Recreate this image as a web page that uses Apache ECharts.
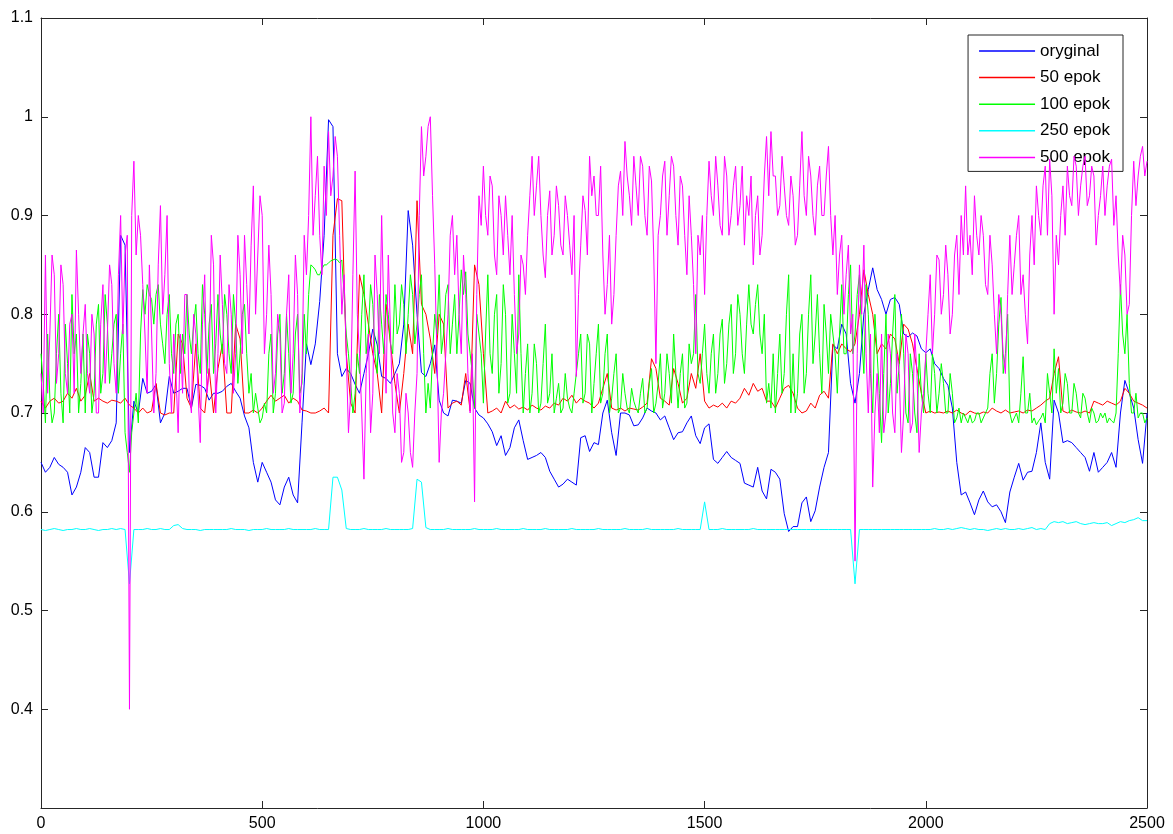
<!DOCTYPE html>
<html>
<head>
<meta charset="utf-8">
<script src="https://cdn.jsdelivr.net/npm/echarts@6/dist/echarts.min.js"></script>
<style>
html,body{margin:0;padding:0;background:#fff;}
#chart{width:1173px;height:834px;}
</style>
</head>
<body>
<div id="chart"></div>
<script>
// values are sampled every 10 units (x = 0,10,...,2500);
// the "Mid" arrays hold the readings in between (x = 5,15,...,2495)
const xStep = 10;
const seriesNames = ['oryginal', '50 epok', '100 epok', '250 epok', '500 epok'];
const xTicks = [0, 500, 1000, 1500, 2000, 2500];
const yTicks = [0.4, 0.5, 0.6, 0.7, 0.8, 0.9, 1, 1.1];

const oryginal = [
.650,.640,.645,.655,.648,.645,.640,.617,.625,.640,
.665,.660,.635,.635,.670,.665,.672,.690,.880,.870,
.660,.712,.700,.735,.720,.722,.729,.690,.700,.737,
.720,.722,.725,.725,.705,.729,.728,.725,.713,.720,
.720,.722,.727,.730,.722,.715,.697,.685,.650,.630,
.650,.640,.630,.612,.607,.625,.635,.617,.609,.690,
.770,.749,.770,.813,.880,.997,.990,.760,.737,.745,
.740,.729,.720,.740,.760,.785,.769,.737,.735,.730,
.740,.750,.790,.905,.870,.800,.741,.737,.750,.769,
.713,.700,.697,.713,.712,.710,.733,.730,.705,.698,
.695,.689,.681,.667,.677,.657,.665,.685,.693,.672,
.653,.655,.657,.660,.655,.641,.633,.625,.628,.633,
.630,.627,.675,.677,.661,.670,.668,.700,.713,.680,
.657,.700,.700,.698,.687,.688,.695,.705,.702,.700,
.693,.697,.685,.673,.680,.681,.690,.697,.677,.669,
.685,.689,.653,.649,.655,.661,.655,.652,.649,.629,
.627,.625,.645,.621,.613,.643,.640,.633,.598,.580,
.585,.585,.609,.615,.590,.601,.625,.645,.660,.769,
.765,.790,.780,.730,.710,.740,.800,.825,.847,.825,
.815,.800,.815,.817,.810,.780,.777,.781,.778,.765,
.761,.765,.750,.745,.735,.728,.705,.650,.617,.620,
.609,.597,.612,.621,.610,.605,.607,.600,.589,.620,
.635,.649,.632,.640,.641,.660,.690,.650,.633,.713,
.700,.670,.672,.670,.665,.660,.655,.641,.660,.640,
.645,.650,.660,.645,.700,.733,.720,.705,.673,.649,
.700
];

const epok50 = [
.712,.705,.712,.715,.710,.712,.720,.715,.725,.712,
.718,.740,.712,.715,.712,.710,.713,.712,.710,.715,
.708,.705,.700,.705,.700,.702,.730,.700,.698,.700,
.700,.780,.770,.715,.705,.770,.705,.700,.745,.700,
.745,.770,.700,.700,.790,.775,.700,.700,.703,.700,
.705,.712,.718,.712,.715,.718,.710,.715,.712,.703,
.702,.700,.700,.702,.705,.700,.880,.917,.915,.760,
.710,.700,.840,.820,.790,.760,.740,.700,.810,.770,
.730,.700,.740,.790,.760,.915,.810,.800,.775,.740,
.800,.790,.705,.710,.712,.708,.740,.702,.850,.830,
.760,.700,.702,.705,.700,.712,.705,.708,.704,.706,
.703,.708,.705,.703,.707,.705,.710,.708,.715,.712,
.718,.710,.715,.712,.710,.705,.710,.725,.740,.705,
.703,.705,.702,.705,.704,.703,.706,.710,.755,.745,
.715,.712,.708,.745,.730,.710,.715,.740,.725,.760,
.712,.705,.708,.706,.710,.705,.712,.710,.715,.725,
.718,.730,.722,.725,.712,.712,.705,.715,.725,.728,
.720,.705,.700,.702,.710,.705,.718,.722,.715,.770,
.760,.770,.765,.762,.770,.800,.845,.820,.800,.760,
.770,.765,.780,.775,.750,.790,.785,.770,.745,.720,
.700,.702,.700,.701,.700,.702,.700,.703,.700,.698,
.702,.700,.699,.701,.700,.705,.702,.700,.703,.700,
.701,.702,.700,.703,.702,.705,.708,.712,.715,.740,
.757,.702,.700,.703,.701,.700,.702,.700,.712,.710,
.708,.712,.710,.708,.712,.725,.720,.712,.710,.708,
.705
];

const epok100 = [
.760,.690,.715,.700,.800,.690,.750,.820,.780,.730,
.700,.760,.720,.810,.740,.790,.760,.800,.760,.680,
.640,.700,.690,.825,.830,.815,.820,.790,.750,.820,
.740,.800,.780,.820,.760,.810,.740,.800,.790,.740,
.820,.760,.800,.740,.790,.760,.810,.720,.700,.705,
.695,.700,.780,.720,.800,.740,.760,.720,.800,.730,
.760,.850,.845,.840,.850,.852,.855,.855,.855,.780,
.730,.720,.740,.840,.780,.810,.740,.790,.820,.770,
.830,.790,.810,.800,.820,.790,.840,.700,.705,.800,
.840,.780,.830,.790,.760,.845,.843,.760,.705,.780,
.710,.840,.740,.820,.750,.800,.720,.760,.840,.700,
.770,.720,.750,.710,.790,.720,.700,.730,.705,.715,
.700,.740,.780,.720,.770,.730,.790,.720,.780,.715,
.760,.705,.720,.700,.712,.700,.735,.705,.745,.710,
.760,.720,.740,.780,.705,.760,.710,.750,.820,.730,
.790,.720,.780,.740,.795,.750,.810,.760,.800,.740,
.830,.780,.830,.760,.710,.705,.700,.780,.740,.840,
.760,.720,.800,.740,.840,.780,.760,.810,.740,.780,
.720,.830,.760,.850,.780,.840,.740,.800,.700,.760,
.670,.800,.730,.820,.750,.760,.690,.740,.680,.720,
.760,.700,.740,.720,.730,.700,.720,.695,.690,.695,
.698,.692,.700,.695,.705,.760,.740,.817,.760,.700,
.695,.690,.757,.700,.690,.688,.695,.690,.720,.765,
.745,.710,.730,.700,.720,.695,.715,.690,.700,.692,
.695,.690,.692,.700,.830,.760,.730,.700,.695,.700,
.695
];

const epok100Mid = [
.730,.780,.690,.760,.720,.790,.700,.760,.700,.780,
.780,.700,.790,.720,.820,.730,.790,.720,.790,.660,
.680,.720,.780,.800,.820,.790,.830,.770,.800,.760,
.790,.740,.760,.780,.790,.760,.830,.740,.810,.770,
.780,.820,.760,.820,.730,.800,.760,.740,.720,.690,
.710,.760,.700,.780,.720,.800,.710,.780,.720,.800,
.820,.848,.840,.846,.850,.854,.856,.852,.820,.760,
.700,.760,.800,.760,.830,.760,.820,.760,.800,.760,
.780,.830,.760,.840,.770,.820,.760,.730,.760,.780,
.760,.820,.760,.820,.800,.820,.780,.740,.800,.760,
.780,.760,.800,.720,.830,.710,.800,.720,.760,.740,
.700,.770,.700,.750,.710,.760,.715,.700,.740,.705,
.720,.760,.710,.780,.700,.760,.710,.760,.700,.740,
.700,.740,.705,.725,.705,.720,.700,.730,.700,.730,
.705,.760,.710,.740,.740,.705,.770,.760,.740,.760,
.740,.760,.720,.780,.730,.790,.740,.820,.760,.790,
.790,.810,.780,.800,.730,.760,.740,.720,.800,.700,
.700,.780,.720,.800,.750,.820,.720,.780,.800,.760,
.780,.760,.820,.760,.820,.780,.830,.740,.800,.720,
.740,.700,.780,.720,.800,.700,.760,.700,.760,.700,
.720,.760,.700,.750,.700,.740,.690,.705,.700,.690,
.690,.700,.690,.700,.740,.710,.790,.740,.800,.690,
.700,.720,.700,.720,.695,.692,.700,.740,.700,.720,
.700,.740,.700,.730,.700,.720,.700,.705,.690,.700,
.700,.695,.690,.760,.780,.800,.700,.720,.700,.690
];

const epok250 = [
.582,.581,.582,.583,.582,.581,.582,.582,.583,.582,
.582,.583,.582,.581,.582,.582,.583,.582,.583,.582,
.527,.582,.582,.582,.583,.582,.582,.583,.582,.582,
.586,.587,.583,.582,.582,.582,.581,.582,.582,.582,
.582,.582,.582,.583,.582,.582,.582,.581,.582,.582,
.582,.583,.582,.582,.582,.582,.583,.582,.582,.582,
.582,.582,.583,.582,.582,.582,.635,.635,.622,.583,
.582,.582,.582,.583,.582,.582,.582,.582,.583,.582,
.582,.582,.582,.582,.583,.633,.630,.584,.582,.582,
.582,.582,.583,.582,.582,.582,.582,.582,.583,.582,
.582,.582,.582,.583,.582,.582,.582,.582,.582,.583,
.582,.582,.582,.582,.583,.582,.582,.582,.582,.582,
.583,.582,.582,.582,.582,.582,.583,.582,.582,.582,
.582,.582,.583,.582,.582,.582,.582,.583,.582,.582,
.582,.582,.582,.582,.583,.582,.582,.582,.582,.582,
.610,.582,.582,.582,.583,.582,.582,.582,.582,.582,
.582,.583,.582,.582,.582,.582,.582,.582,.582,.582,
.582,.582,.582,.582,.582,.582,.582,.582,.582,.582,
.582,.582,.582,.582,.527,.582,.582,.582,.582,.582,
.582,.582,.582,.582,.582,.582,.582,.582,.582,.582,
.582,.582,.583,.582,.582,.583,.582,.583,.584,.583,
.582,.583,.582,.582,.581,.582,.583,.582,.583,.582,
.582,.583,.582,.583,.584,.582,.583,.582,.588,.590,
.589,.590,.588,.589,.590,.588,.587,.588,.589,.588,
.588,.589,.586,.588,.590,.589,.591,.592,.594,.591,
.591
];

const epok500 = [
.740,.860,.780,.840,.760,.830,.720,.800,.865,.740,
.810,.720,.780,.700,.830,.780,.830,.720,.900,.860,
.400,.955,.900,.830,.720,.780,.740,.910,.840,.750,
.780,.680,.720,.820,.700,.780,.670,.840,.740,.850,
.760,.810,.740,.800,.760,.840,.880,.780,.930,.860,
.900,.800,.820,.740,.780,.710,.840,.760,.820,.740,
.840,1.000,.920,.880,.950,.985,.940,.960,.800,.760,
.720,.945,.760,.633,.780,.720,.820,.900,.720,.780,
.680,.720,.660,.700,.645,.740,.990,.960,1.000,.850,
.650,.720,.800,.900,.880,.760,.820,.700,.610,.920,
.950,.880,.930,.840,.900,.920,.840,.820,.780,.850,
.880,.960,.930,.900,.837,.925,.880,.910,.860,.900,
.840,.737,.870,.905,.960,.940,.900,.860,.830,.790,
.880,.945,.975,.920,.960,.900,.950,.880,.935,.750,
.900,.955,.920,.950,.870,.930,.840,.880,.760,.860,
.820,.955,.900,.930,.880,.940,.900,.950,.910,.870,
.900,.850,.920,.880,.980,.985,.940,.910,.930,.890,
.920,.880,.985,.900,.940,.880,.950,.900,.970,.860,
.820,.880,.840,.780,.550,.850,.870,.700,.625,.740,
.780,.700,.760,.680,.740,.700,.760,.690,.740,.700,
.760,.840,.800,.855,.820,.840,.800,.880,.900,.930,
.880,.920,.860,.880,.820,.850,.760,.800,.740,.880,
.850,.900,.840,.770,.900,.930,.880,.950,.957,.800,
.850,.930,.950,.910,.950,.930,.960,.920,.940,.900,
.950,.930,.957,.920,.820,.860,.810,.955,.940,.970,
.955
];

const epok500Mid = [
.700,.720,.860,.730,.850,.740,.790,.720,.800,.780,
.740,.800,.700,.790,.730,.850,.750,.840,.780,.880,
.900,.860,.880,.780,.850,.700,.850,.800,.900,.700,
.740,.780,.820,.720,.800,.720,.790,.720,.880,.700,
.860,.750,.830,.720,.880,.760,.830,.870,.800,.920,
.760,.870,.720,.800,.700,.800,.720,.860,.700,.880,
.900,.880,.960,.840,.900,.920,.980,.880,.840,.680,
.840,.800,.700,.740,.680,.860,.760,.800,.860,.700,
.740,.650,.720,.660,.700,.900,.940,.990,.920,.760,
.700,.760,.880,.840,.800,.860,.740,.760,.820,.890,
.900,.940,.860,.920,.860,.880,.900,.760,.860,.820,
.920,.900,.960,.860,.900,.860,.930,.870,.920,.870,
.900,.820,.920,.860,.920,.900,.950,.800,.880,.820,
.930,.900,.940,.890,.930,.960,.900,.950,.860,.880,
.940,.880,.960,.900,.940,.880,.920,.830,.880,.900,
.900,.920,.960,.890,.960,.880,.930,.890,.950,.920,
.940,.900,.860,.940,.920,.940,.900,.960,.900,.940,
.870,.930,.920,.960,.900,.930,.900,.940,.900,.900,
.860,.800,.870,.800,.760,.800,.760,.780,.700,.680,
.680,.780,.700,.760,.660,.780,.680,.780,.660,.720,
.800,.760,.860,.800,.870,.780,.860,.820,.860,.860,
.840,.880,.900,.830,.880,.800,.820,.760,.820,.820,
.880,.820,.800,.860,.850,.900,.930,.880,.920,.880,
.900,.880,.920,.960,.900,.950,.910,.950,.870,.920,
.900,.950,.890,.860,.880,.800,.900,.910,.960,.940
];

const seriesValues = [oryginal, epok50, epok100, epok250, epok500];
const seriesMids = [null, null, epok100Mid, null, epok500Mid];
const colors = ['#0000FF', '#FF0000', '#00FF00', '#00FFFF', '#FF00FF'];

function pairs(vals, mids) {
  const out = [];
  vals.forEach((v, i) => {
    out.push([i * xStep, v]);
    if (mids && i < mids.length) out.push([i * xStep + xStep / 2, mids[i]]);
  });
  return out;
}

const chart = echarts.init(document.getElementById('chart'), null, {renderer: 'canvas'});
const font = 'Liberation Sans, Arial, Helvetica, sans-serif';
const axisColor = '#262626';

const option = {
  animation: false,
  backgroundColor: '#ffffff',
  grid: {left: 41, right: 26, top: 18, bottom: 26, containLabel: false},
  legend: {
    data: seriesNames.map(n => ({name: n, icon: 'rect'})),
    orient: 'vertical',
    right: 50,
    top: 35,
    padding: [6, 13, 4, 11],
    itemWidth: 56,
    itemHeight: 1.5,
    itemGap: 6.6,
    backgroundColor: '#ffffff',
    borderColor: axisColor,
    borderWidth: 1,
    borderRadius: 0,
    textStyle: {fontFamily: font, fontSize: 17, color: '#000', lineHeight: 20}
  },
  xAxis: [{
    type: 'value', min: 0, max: 2500, interval: 500,
    axisLine: {show: true, lineStyle: {color: axisColor, width: 1}},
    axisTick: {show: true, inside: true, length: 7, lineStyle: {color: axisColor}},
    axisLabel: {fontFamily: font, fontSize: 16, color: '#000', margin: 8,
      formatter: v => xTicks.indexOf(v) >= 0 ? String(v) : ''},
    splitLine: {show: false}
  }, {
    type: 'value', min: 0, max: 2500, interval: 500, position: 'top',
    axisLine: {show: true, onZero: false, lineStyle: {color: axisColor, width: 1}},
    axisTick: {show: true, inside: true, length: 7, lineStyle: {color: axisColor}},
    axisLabel: {show: false}, splitLine: {show: false}
  }],
  yAxis: [{
    type: 'value', min: 0.3, max: 1.1, interval: 0.1,
    axisLine: {show: true, lineStyle: {color: axisColor, width: 1}},
    axisTick: {show: true, inside: true, length: 7, lineStyle: {color: axisColor}},
    axisLabel: {fontFamily: font, fontSize: 16, color: '#000', margin: 8,
      formatter: v => {
        const r = Math.round(v * 10) / 10;
        return yTicks.indexOf(r) >= 0 ? String(r) : '';
      }},
    splitLine: {show: false}
  }, {
    type: 'value', min: 0.3, max: 1.1, interval: 0.1, position: 'right',
    axisLine: {show: true, onZero: false, lineStyle: {color: axisColor, width: 1}},
    axisTick: {show: true, inside: true, length: 7, lineStyle: {color: axisColor}},
    axisLabel: {show: false}, splitLine: {show: false}
  }],
  series: seriesNames.map((name, k) => ({
    name: name,
    type: 'line',
    xAxisIndex: 0,
    yAxisIndex: 0,
    data: pairs(seriesValues[k], seriesMids[k]),
    symbol: 'none',
    showSymbol: false,
    smooth: false,
    color: colors[k],
    lineStyle: {color: colors[k], width: 1},
    z: 2 + k
  }))
};
chart.setOption(option);
</script>
</body>
</html>
